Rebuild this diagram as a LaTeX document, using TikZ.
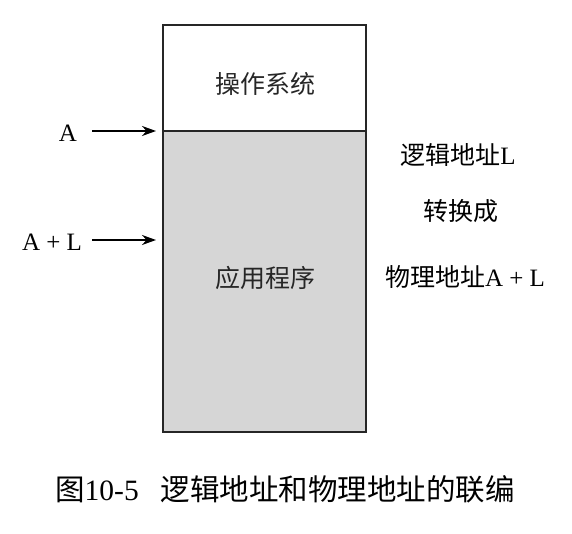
\documentclass[tikz,border=0pt]{standalone}
\usepackage{fontspec}
\setmainfont{Liberation Serif}
\newfontfamily\cjk{Noto Sans CJK SC}
\usetikzlibrary{arrows.meta}
\begin{document}
\begin{tikzpicture}[x=1pt,y=-1pt,
  memline/.style={line width=1.8pt,draw=black!85},
  lbl/.style={inner sep=0pt,font=\fontsize{25}{29}\selectfont},
  cjklbl/.style={inner sep=0pt,font=\fontsize{25}{30}\selectfont\cjk,text=black!85},
  ptr/.style={line width=2pt,-{Stealth[length=14pt,width=10pt]}},
  capt/.style={inner sep=0pt,font=\fontsize{29.5}{34}\selectfont}]
  \useasboundingbox (0,0) rectangle (572,534);
  % memory column: operating system on top, application below
  \fill[black!16] (163,131) rectangle (366,432);
  \draw[memline] (163,25) rectangle (366,432);
  \draw[memline] (163,131) -- (366,131);
  \node[cjklbl] (os) at (265,84) {操作系统};
  \node[cjklbl] (app) at (265,278) {应用程序};
  % address pointers
  \node[lbl] (lblA) at (68,133) {A};
  \node[lbl] (lblAL) at (52,242) {A + L};
  \coordinate (fromA) at (92,131);
  \coordinate (toA) at (156,131);
  \coordinate (fromAL) at (92,240);
  \coordinate (toAL) at (156,240);
  \draw[ptr] (fromA) -- (toA);
  \draw[ptr] (fromAL) -- (toAL);
  % address translation note
  \node[lbl] (logic) at (458,155) {{\cjk\fontsize{25}{30}\selectfont 逻辑地址}L};
  \node[cjklbl,text=black] (conv) at (461,211) {转换成};
  \node[lbl] (phys) at (465,277) {{\cjk\fontsize{25}{30}\selectfont 物理地址}A + L};
  % caption
  \node[capt] (cap) at (285,489) {{\cjk 图}10-5\hspace{22pt}{\cjk 逻辑地址和物理地址的联编}};
\end{tikzpicture}
\end{document}
